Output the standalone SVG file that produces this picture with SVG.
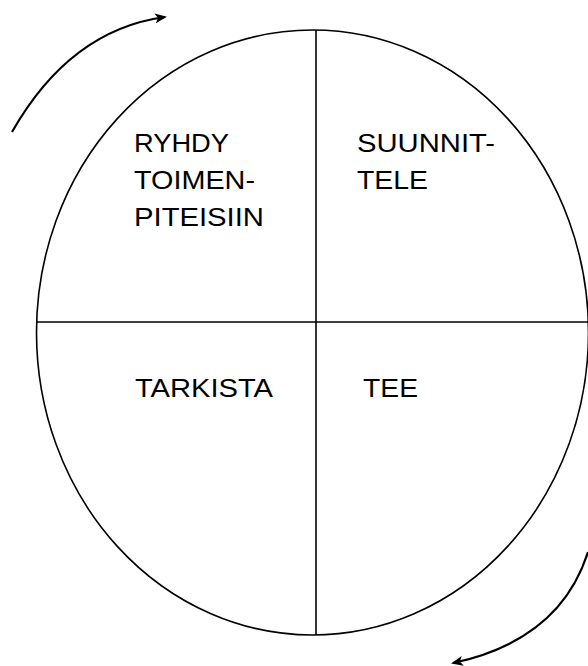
<svg xmlns="http://www.w3.org/2000/svg" width="588" height="666" viewBox="0 0 588 666">
<style>
.ln{fill:none;stroke:#000;stroke-width:1.6}
.ar{fill:none;stroke:#000;stroke-width:2.2}
text{font-family:"Liberation Sans",Arial,sans-serif;font-size:26.5px;fill:#000}
</style>
<defs>
<marker id="ah" markerWidth="12" markerHeight="10" refX="10" refY="5" orient="auto" markerUnits="userSpaceOnUse" viewBox="0 0 12 10">
<path d="M0,0 L12,5 L0,10 L3,5 Z" fill="#000"/>
</marker>
</defs>
<g id="circle">
<ellipse class="ln" cx="312.5" cy="332.5" rx="276" ry="302.5"/>
</g>
<g id="dividers">
<line class="ln" x1="316" y1="30" x2="316" y2="635"/>
<line class="ln" x1="36" y1="322" x2="588" y2="322"/>
</g>
<g id="q-act"><text x="134" y="152" textLength="95" lengthAdjust="spacingAndGlyphs">RYHDY</text><text x="134" y="189" textLength="121" lengthAdjust="spacingAndGlyphs">TOIMEN-</text><text x="134" y="226" textLength="130" lengthAdjust="spacingAndGlyphs">PITEISIIN</text></g>
<g id="q-plan"><text x="357" y="152" textLength="138" lengthAdjust="spacingAndGlyphs">SUUNNIT-</text><text x="357" y="189" textLength="71" lengthAdjust="spacingAndGlyphs">TELE</text></g>
<g id="q-check"><text x="135" y="397" textLength="138" lengthAdjust="spacingAndGlyphs">TARKISTA</text></g>
<g id="q-do"><text x="363" y="397" textLength="55" lengthAdjust="spacingAndGlyphs">TEE</text></g>
<g id="connectors">
<path class="ar" d="M12,132 Q70,30 165,17" marker-end="url(#ah)"/>
<path class="ar" d="M588,552 Q560,640 453,663" marker-end="url(#ah)"/>
</g>
</svg>
